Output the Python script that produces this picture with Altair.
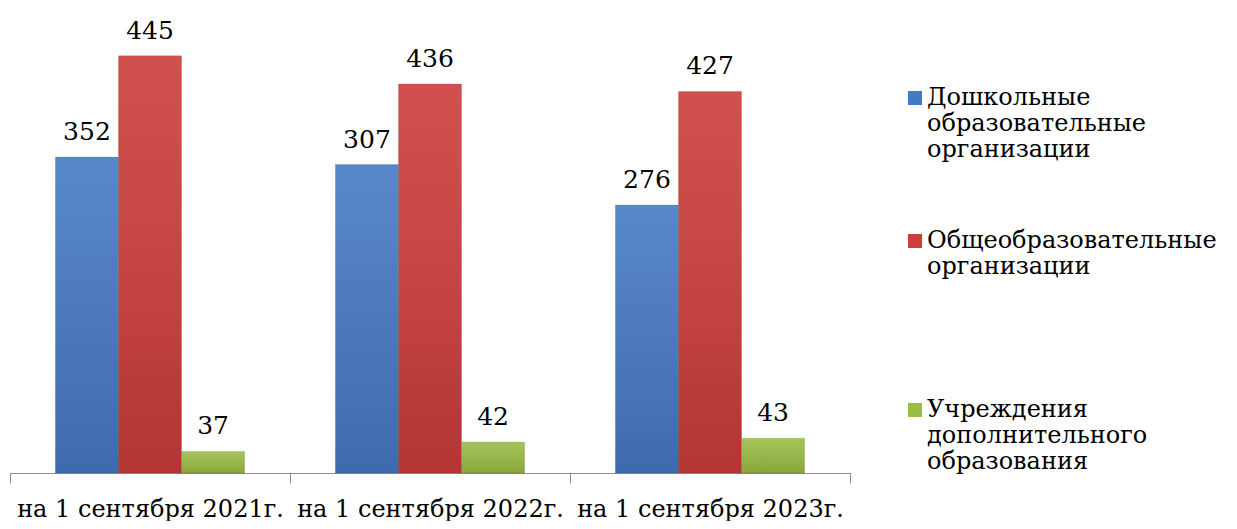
import altair as alt
import pandas as pd

categories = ["на 1 сентября 2021г.", "на 1 сентября 2022г.", "на 1 сентября 2023г."]
series = ["Дошкольные образовательные организации",
          "Общеобразовательные организации",
          "Учреждения дополнительного образования"]
# printed data labels
labels = {
    series[0]: [352, 307, 276],
    series[1]: [445, 436, 427],
    series[2]: [37, 42, 43],
}
# bar heights as drawn in the picture (axis units)
drawn = {
    series[0]: [337, 329, 286],
    series[1]: [445, 415, 407],
    series[2]: [23, 33, 37],
}
colors = ["#4579c4", "#cc3d3b", "#9bbd45"]

rows = []
for s in series:
    for i, c in enumerate(categories):
        rows.append({"cat": c, "series": s, "value": drawn[s][i], "label": labels[s][i]})
df = pd.DataFrame(rows)

FONT = "DejaVu Serif"

x = alt.X("cat:N", sort=categories, title=None,
          scale=alt.Scale(paddingInner=0, paddingOuter=0),
          axis=alt.Axis(labelAngle=0, labelFontSize=24, labelFont=FONT, labelColor="#000",
                        domainColor="#8c8c8c", tickColor="#8c8c8c", tickSize=10,
                        tickBand="extent", labelPadding=14, labelLimit=400))
xo = alt.XOffset("series:N", sort=series, scale=alt.Scale(paddingInner=0, paddingOuter=0.72))
y = alt.Y("value:Q", scale=alt.Scale(domain=[0, 480]), axis=None)

base = alt.Chart(df).encode(x=x, xOffset=xo, y=y)

bars = base.mark_bar(stroke="#00000030", strokeWidth=0.6).encode(
    color=alt.Color("series:N", sort=series,
                    scale=alt.Scale(domain=series, range=colors),
                    legend=alt.Legend(title=None, orient="none", legendX=893, legendY=63,
                                      labelFont=FONT, labelFontSize=24, labelColor="#000",
                                      symbolType="square", symbolSize=196,
                                      symbolStrokeWidth=0, labelOffset=0,
                                      rowPadding=67, labelLimit=400,
                                      labelExpr="split(indexof(datum.label,'Общеобр')==0 ? datum.label + '  ' : datum.label, ' ')"))
)

shade = base.mark_bar(fill=alt.Gradient(
    gradient="linear", x1=0, y1=0, x2=0, y2=1,
    stops=[alt.GradientStop(color="rgba(255,255,255,0.10)", offset=0),
           alt.GradientStop(color="rgba(0,0,0,0.12)", offset=1)]))

text = base.mark_text(baseline="bottom", dy=-12, font=FONT, fontSize=25, color="#000").encode(
    text="label:Q")

chart = alt.layer(bars, shade, text).properties(
    width=840, height=450,
    autosize=alt.AutoSizeParams(type="none"),
    padding={"left": 2, "top": 15, "right": 379, "bottom": 48},
).configure_view(stroke=None)

chart.save("out.html", embed_options={"renderer": "svg", "actions": False})
